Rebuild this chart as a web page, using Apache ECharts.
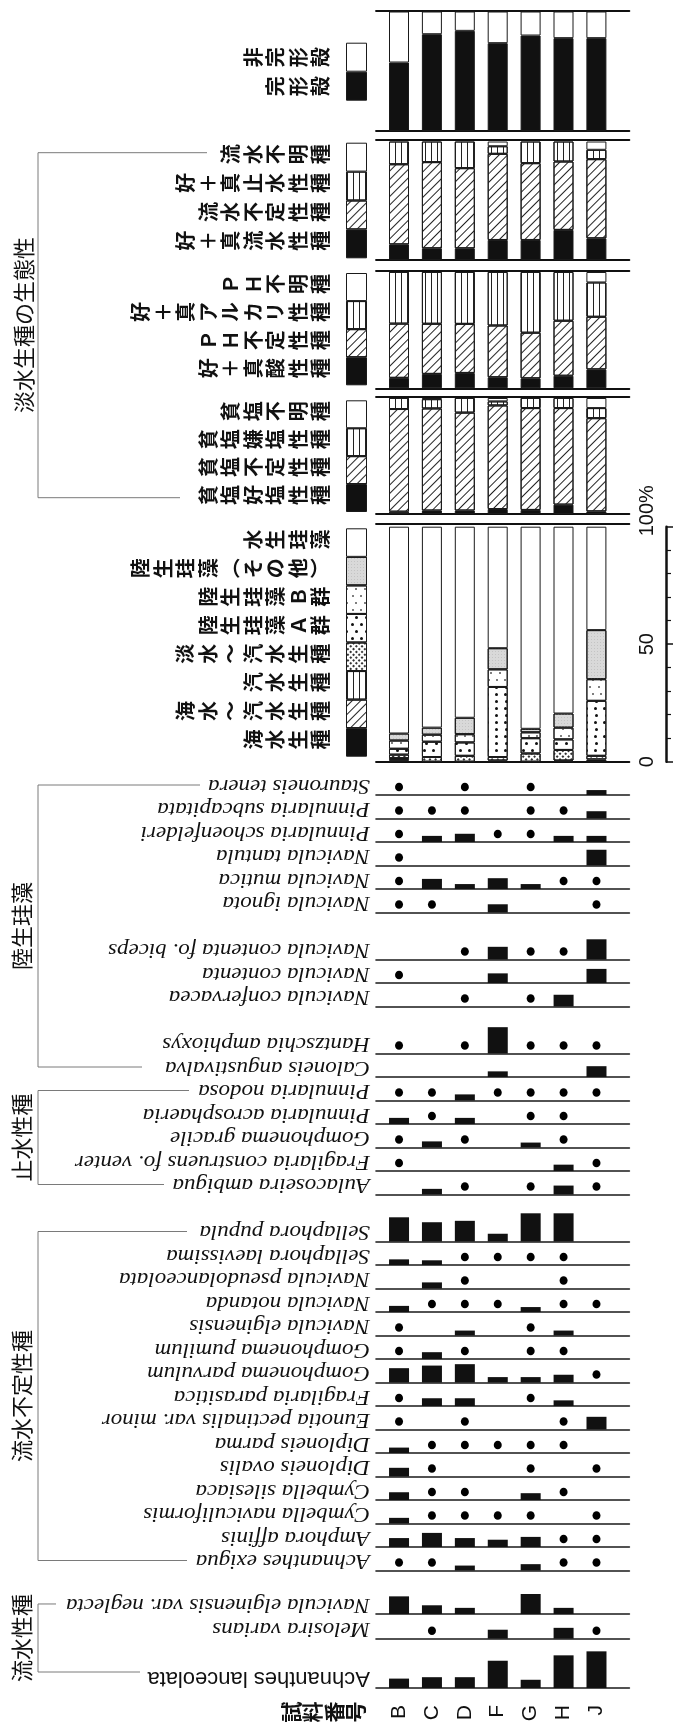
<!DOCTYPE html>
<html>
<head>
<meta charset="utf-8">
<script src="https://cdn.jsdelivr.net/npm/echarts@6/dist/echarts.min.js"></script>
<style>
  html, body { margin: 0; padding: 0; background: #fff; }
  #chart { width: 675px; height: 1725px; }
</style>
</head>
<body>
<div id="chart"></div>
<script>
// ---------------------------------------------------------------------------
// Diatom assemblage diagram (samples B–J)
// ---------------------------------------------------------------------------
const samples = ['B', 'C', 'D', 'F', 'G', 'H', 'J'];

// Species occurrences in %, listed bottom to top; '+' = present below 1 %, null = absent
const rheophilNames = ['Achnanthes lanceolata', 'Melosira varians', 'Navicula elginensis var. neglecta'];
const rheophilValues = [
  [4.0, 4.6, 4.6, 11.6, 3.5, 13.9, 15.6],
  [null, '+', null, 3.8, null, 4.6, '+'],
  [7.5, 3.7, 2.6, null, 8.5, 2.6, null]
];

const indifferentNames = [
  'Achnanthes exigua', 'Amphora affinis', 'Cymbella naviculiformis', 'Cymbella silesiaca',
  'Diploneis ovalis', 'Diploneis parma', 'Eunotia pectinalis var. minor', 'Fragilaria parasitica',
  'Gomphonema parvulum', 'Gomphonema pumilum', 'Navicula elginensis', 'Navicula notanda',
  'Navicula pseudolanceolata', 'Sellaphora laevissima', 'Sellaphora pupula'
];
const indifferentValues = [
  ['+', '+', 2.1, null, 2.7, '+', '+'],
  [3.8, 6.0, 3.8, 3.1, 4.3, '+', '+'],
  [2.4, '+', '+', '+', '+', null, '+'],
  [3.3, '+', '+', null, 2.9, '+', null],
  [3.7, '+', null, null, '+', null, '+'],
  [2.3, '+', '+', '+', '+', '+', null],
  ['+', null, '+', null, null, '+', 5.4],
  ['+', 3.3, 3.3, null, '+', 2.4, null],
  [6.1, 7.2, 7.8, 2.3, 2.3, 3.3, '+'],
  ['+', 2.9, '+', null, '+', '+', null],
  ['+', null, 2.1, null, '+', 2.1, null],
  [2.6, '+', '+', '+', 2.1, '+', '+'],
  [null, 2.6, '+', null, null, '+', null],
  [2.4, 2.0, '+', '+', '+', '+', null],
  [10.3, 8.2, 8.8, 3.3, 12.0, 12.0, null]
];

const limnophilNames = [
  'Aulacoseira ambigua', 'Fragilaria construens fo. venter', 'Gomphonema gracile',
  'Pinnularia acrosphaeria', 'Pinnularia nodosa'
];
const limnophilValues = [
  [null, 2.4, '+', null, '+', 3.8, '+'],
  ['+', null, null, null, null, 2.7, '+'],
  ['+', 2.6, '+', null, 2.1, '+', null],
  [2.6, '+', 2.6, null, '+', '+', null],
  ['+', '+', 2.6, '+', '+', '+', '+']
];

const aerophilNames = [
  'Caloneis angustivalva', 'Hantzschia amphioxys', 'Navicula confervacea', 'Navicula contenta',
  'Navicula contenta fo. biceps', 'Navicula ignota', 'Navicula mutica', 'Navicula tantula',
  'Pinnularia schoenfelderi', 'Pinnularia subcapitata', 'Stauroneis tenera'
];
const aerophilValues = [
  [null, null, null, 2.4, null, null, 4.6],
  ['+', null, '+', 11.2, '+', '+', '+'],
  [null, null, '+', null, '+', 5.0, null],
  ['+', null, null, 4.1, null, null, 6.0],
  [null, null, '+', 5.4, '+', '+', 8.6],
  ['+', '+', null, 3.5, null, null, '+'],
  ['+', 4.3, 2.1, 4.6, 2.1, '+', '+'],
  ['+', null, null, null, null, null, 6.7],
  ['+', 2.6, 3.5, '+', '+', 2.6, 2.6],
  ['+', '+', '+', null, '+', '+', 3.1],
  ['+', null, '+', null, '+', null, 2.1]
];

// Valve preservation (%)
const valveIntact = [57.3, 81.0, 83.8, 73.5, 79.9, 77.7, 77.7];
const valveBroken = [42.7, 19.0, 16.2, 26.5, 20.1, 22.3, 22.3];

// Current preference (%)
const currentLoving = [13.2, 9.9, 9.9, 16.9, 16.9, 25.4, 18.3];
const currentIndifferent = [67.6, 72.7, 67.6, 72.7, 64.8, 57.7, 66.8];
const standingLoving = [19.2, 17.4, 22.5, 6.4, 18.3, 16.9, 7.9];
const currentUnknown = [0, 0, 0, 4.0, 0, 0, 7.0];

// pH preference (%)
const acidophil = [9.0, 12.4, 13.2, 9.5, 8.6, 10.8, 16.3];
const phIndifferent = [46.6, 43.1, 42.2, 44.5, 39.2, 47.3, 45.2];
const alkaliphil = [44.4, 44.5, 44.6, 46.0, 52.2, 41.9, 29.5];
const phUnknown = [0, 0, 0, 0, 0, 0, 9.0];

// Salinity preference (%)
const halophil = [2.0, 3.0, 3.0, 4.3, 3.5, 8.1, 2.3];
const salIndifferent = [88.5, 88.0, 84.4, 89.3, 87.8, 83.2, 80.3];
const halophobe = [9.5, 8.0, 12.6, 3.5, 8.7, 8.7, 8.7];
const salUnknown = [0, 1.0, 0, 2.9, 0, 0, 8.7];

// Habitat groups (%)
const marine = [0.5, 0, 0, 0.5, 0, 0, 1.0];
const marineBrackish = [0.5, 0, 0, 0, 0, 0, 0];
const brackish = [0.5, 0, 0, 0, 0, 0.5, 0];
const freshBrackish = [1.5, 2.0, 2.5, 1.5, 3.5, 4.5, 1.5];
const aerialA = [2.5, 6.5, 5.7, 29.8, 6.5, 4.5, 23.4];
const aerialB = [3.5, 3.0, 3.5, 7.5, 2.5, 5.0, 9.2];
const aerialOther = [3.0, 3.0, 7.0, 9.0, 1.5, 6.0, 20.9];
const aquatic = [88.0, 85.5, 81.3, 51.7, 86.0, 79.5, 44.0];

const scaleTicks = ['0', '50', '100%'];

// ---------------------------------------------------------------------------
// Layout and styles
// ---------------------------------------------------------------------------
const X_MIN = -0.7, X_MAX = 7.0;          // value axis used for the row baselines
const PLOT_LEFT = 376, PLOT_W = 253.4;
const BAR_LEFT = 382.55, BAR_W = 230.3;   // category band area (B..J)
const PX_PER_PCT = 2.35;
const ROW0 = 1688, ROW_STEP = 23.5;       // species baselines
const ROW_H = 45;
const DOT_LEVEL = 8 / PX_PER_PCT;
const INK = '#111';
const JP = '"Noto Sans CJK JP", "Noto Sans CJK SC", sans-serif';

const SOLID = { color: INK };
const WHITE = { color: '#fff' };
const HATCH = { color: '#fff', decal: { symbol: 'rect', symbolSize: 1, dashArrayX: [1, 0], dashArrayY: [1, 4.5], rotation: -Math.PI / 4, color: '#222' } };
const VLINES = { color: '#fff', decal: { symbol: 'rect', symbolSize: 1, dashArrayX: [1, 0], dashArrayY: [1, 4.5], rotation: Math.PI / 2, color: '#222' } };
const CROSS = { color: '#fff', decal: { symbol: 'rect', symbolSize: 1, dashArrayX: [2, 1.5], dashArrayY: [2, 1.5], rotation: Math.PI / 4, color: '#333' } };
const BIGDOTS = { color: '#fff', decal: { symbol: 'circle', symbolSize: 1, dashArrayX: [[3, 6], [0, 4.5, 3, 1.5]], dashArrayY: [3, 4], color: '#111' } };
const SMALLDOTS = { color: '#fff', decal: { symbol: 'circle', symbolSize: 1, dashArrayX: [[1.5, 6], [0, 3.75, 1.5, 2.25]], dashArrayY: [1.5, 5], color: '#555' } };
const GRAY = { color: '#d9d9d9', decal: { symbol: 'circle', symbolSize: 1, dashArrayX: [1, 2], dashArrayY: [1, 2], color: '#bdbdbd' } };

const grid = [], xAxis = [], yAxis = [], series = [], graphic = [];

function hiddenValueX(gridIndex, extra) {
  return Object.assign({
    gridIndex, type: 'value', min: X_MIN, max: X_MAX,
    axisLine: { show: true, onZero: false, lineStyle: { color: '#1a1a1a', width: 1.6 } },
    axisTick: { show: false }, axisLabel: { show: false }, splitLine: { show: false }
  }, extra || {});
}

function vtext(str) { return Array.from(str).join('\n'); }

// ---------------------------------------------------------------------------
// Species rows
// ---------------------------------------------------------------------------
const speciesGroups = [
  { label: '流水性種', names: rheophilNames, values: rheophilValues, slots: [0, 2.1, 3.15], topEnd: 56, bottomEnd: 140 },
  { label: '流水不定性種', names: indifferentNames, values: indifferentValues,
    slots: [5, 6, 7, 8, 9, 10, 11, 12, 13, 14, 15, 16, 17, 18, 19], topEnd: 187, bottomEnd: 187 },
  { label: '止水性種', names: limnophilNames, values: limnophilValues, slots: [21, 22, 23, 24, 25], topEnd: 189, bottomEnd: 164 },
  { label: '陸生珪藻', names: aerophilNames, values: aerophilValues,
    slots: [26, 27, 29, 30, 31, 33, 34, 35, 36, 37, 38], topEnd: 200, bottomEnd: 142 }
];

speciesGroups.forEach(g => {
  g.names.forEach((name, k) => {
    const base = ROW0 - g.slots[k] * ROW_STEP;
    const gi = grid.length;
    grid.push({ left: PLOT_LEFT, width: PLOT_W, top: base - ROW_H, height: ROW_H });
    const xi = xAxis.length; xAxis.push(hiddenValueX(gi));
    const yi = yAxis.length; yAxis.push({ gridIndex: gi, type: 'value', min: 0, max: ROW_H / PX_PER_PCT, show: false });
    const vals = g.values[k];
    series.push({
      type: 'bar', xAxisIndex: xi, yAxisIndex: yi, barWidth: 20, silent: true,
      data: vals.map((v, i) => typeof v === 'number' ? [i, v] : null).filter(Boolean),
      itemStyle: { color: INK }
    });
    series.push({
      type: 'scatter', xAxisIndex: xi, yAxisIndex: yi, symbol: 'circle', symbolSize: [8, 8.5], silent: true,
      data: vals.map((v, i) => v === '+' ? [i, DOT_LEVEL] : null).filter(Boolean),
      itemStyle: { color: '#000', opacity: 1 }
    });
    const upright = name === 'Achnanthes lanceolata';
    graphic.push({
      type: 'text', x: 370, y: base - 10, rotation: Math.PI, scaleX: upright ? 1.0 : 1.15, silent: true,
      style: {
        text: name,
        font: upright ? '22px "Liberation Sans", Arial, sans-serif' : 'italic 20px "Liberation Serif", "Times New Roman", serif',
        fill: INK, textAlign: 'left', textVerticalAlign: 'middle', align: 'left', verticalAlign: 'middle'
      }
    });
  });
  // bracket + group label
  const topY = ROW0 - g.slots[g.slots.length - 1] * ROW_STEP - 10;
  const botY = ROW0 - g.slots[0] * ROW_STEP - 10 - (g.slots[0] === 0 ? 6 : 0);
  graphic.push({
    type: 'polyline', silent: true,
    shape: { points: [[g.topEnd, topY], [38, topY], [38, botY], [g.bottomEnd, botY]] },
    style: { stroke: '#7a7a7a', lineWidth: 1, fill: null }
  });
  graphic.push({
    type: 'text', x: 22, y: (topY + botY) / 2, rotation: Math.PI / 2, silent: true,
    style: { text: g.label, font: '22px ' + JP, fill: INK, textAlign: 'center', textVerticalAlign: 'middle', align: 'center', verticalAlign: 'middle' }
  });
});

// freshwater-ecology bracket spanning the three upper panels
graphic.push({
  type: 'polyline', silent: true,
  shape: { points: [[207, 152.7], [38, 152.7], [38, 497.7], [180, 497.7]] },
  style: { stroke: '#7a7a7a', lineWidth: 1, fill: null }
});
graphic.push({
  type: 'text', x: 24, y: 325, rotation: Math.PI / 2, silent: true,
  style: { text: '淡水生種の生態性', font: '22px ' + JP, fill: INK, textAlign: 'center', textVerticalAlign: 'middle', align: 'center', verticalAlign: 'middle' }
});

// sample labels on a category axis
(function () {
  const gi = grid.length;
  grid.push({ left: BAR_LEFT, width: BAR_W, top: 1689, height: 1 });
  xAxis.push({
    gridIndex: gi, type: 'category', data: samples, boundaryGap: true,
    axisLine: { show: false }, axisTick: { show: false }, splitLine: { show: false },
    axisLabel: { rotate: 90, margin: 15, fontSize: 21, color: INK, fontFamily: '"Liberation Sans", Arial, sans-serif' }
  });
  yAxis.push({ gridIndex: gi, type: 'value', show: false });
})();
graphic.push({
  type: 'text', x: 366, y: 1712, rotation: Math.PI / 2, silent: true,
  style: { text: vtext('試料番号'), font: 'bold 21px ' + JP, lineHeight: 21.5, fill: INK, textAlign: 'center', textVerticalAlign: 'bottom', align: 'center', verticalAlign: 'bottom' }
});

// ---------------------------------------------------------------------------
// Stacked percentage panels (with key swatches)
// ---------------------------------------------------------------------------
const panels = [
  { top: 11.5, height: 119.5, topOffset: 1, parts: [[valveIntact, SOLID], [valveBroken, WHITE]],
    key: { top: 42.7, height: 58, labels: ['完形殻', '非完形殻'] } },
  { top: 141.5, height: 118.5, topOffset: 1.5,
    parts: [[currentLoving, SOLID], [currentIndifferent, HATCH], [standingLoving, VLINES], [currentUnknown, WHITE]],
    key: { top: 142.7, height: 115.6, labels: ['好＋真流水性種', '流水不定性種', '好＋真止水性種', '流水不明種'] } },
  { top: 272, height: 116.3, topOffset: 1,
    parts: [[acidophil, SOLID], [phIndifferent, HATCH], [alkaliphil, VLINES], [phUnknown, WHITE]],
    key: { top: 273, height: 112.3, labels: ['好＋真酸性種', 'ＰＨ不定性種', '好＋真アルカリ性種', 'ＰＨ不明種'] } },
  { top: 398, height: 116, topOffset: 1,
    parts: [[halophil, SOLID], [salIndifferent, HATCH], [halophobe, VLINES], [salUnknown, WHITE]],
    key: { top: 400.3, height: 111.7, labels: ['貧塩好塩性種', '貧塩不定性種', '貧塩嫌塩性種', '貧塩不明種'] } },
  { top: 526.7, height: 235, topOffset: 3.4, scale: true,
    parts: [[marine, SOLID], [marineBrackish, HATCH], [brackish, VLINES], [freshBrackish, CROSS],
            [aerialA, BIGDOTS], [aerialB, SMALLDOTS], [aerialOther, GRAY], [aquatic, WHITE]],
    key: { top: 528.3, height: 228.4, labels: ['海水生種', '海水～汽水生種', '汽水生種', '淡水～汽水生種',
            '陸生珪藻Ａ群', '陸生珪藻Ｂ群', '陸生珪藻︵その他︶', '水生珪藻'] } }
];

const frameLine = { color: '#111', width: 1.8 };

panels.forEach((p, pi) => {
  // frame: top and bottom rules across the full panel width
  const fg = grid.length;
  grid.push({ left: PLOT_LEFT, width: PLOT_W, top: p.top, height: p.height });
  xAxis.push(hiddenValueX(fg, { axisLine: { show: true, onZero: false, lineStyle: frameLine } }));
  xAxis.push(hiddenValueX(fg, { position: 'top', offset: p.topOffset, axisLine: { show: true, onZero: false, lineStyle: frameLine } }));
  yAxis.push({ gridIndex: fg, type: 'value', min: 0, max: 100, show: false });

  // stacked bars on a category axis
  const bg = grid.length;
  grid.push({ left: BAR_LEFT, width: BAR_W, top: p.top, height: p.height });
  const bx = xAxis.length;
  xAxis.push({ gridIndex: bg, type: 'category', data: samples, boundaryGap: true, show: false });
  const by = yAxis.length;
  if (p.scale) {
    yAxis.push({
      gridIndex: bg, type: 'value', min: 0, max: 100, interval: 50, position: 'right',
      offset: 666 - (BAR_LEFT + BAR_W),
      axisLine: { show: true, lineStyle: { color: '#111', width: 2.5 } },
      axisTick: { show: true, length: 7, lineStyle: { color: '#111', width: 1.5 } },
      minorTick: { show: true, splitNumber: 5, length: 5, lineStyle: { color: '#111', width: 1.2 } },
      splitLine: { show: false },
      axisLabel: {
        inside: true, rotate: 90, margin: 9, color: INK, fontSize: 20, fontFamily: '"Liberation Sans", Arial, sans-serif',
        formatter: v => v === 100 ? '{p|' + scaleTicks[2] + '}' : scaleTicks[v / 50],
        rich: { p: { fontSize: 20, fontFamily: '"Liberation Sans", Arial, sans-serif', color: INK, padding: [0, 0, 0, 32] } }
      }
    });
  } else {
    yAxis.push({ gridIndex: bg, type: 'value', min: 0, max: 100, show: false });
  }
  p.parts.forEach(([vals, style]) => {
    series.push({
      type: 'bar', xAxisIndex: bx, yAxisIndex: by, stack: 'panel' + pi, barWidth: 20, silent: true,
      data: vals.map(v => v > 0 ? v : '-'),
      itemStyle: Object.assign({ borderColor: '#1a1a1a', borderWidth: 1 }, style)
    });
  });

  // key swatch column drawn as a stacked bar of equal parts
  const kg = grid.length;
  grid.push({ left: 346, width: 21, top: p.key.top, height: p.key.height });
  const kx = xAxis.length;
  xAxis.push({ gridIndex: kg, type: 'category', data: ['key'], show: false });
  const ky = yAxis.length;
  yAxis.push({ gridIndex: kg, type: 'value', min: 0, max: p.parts.length, show: false });
  const sec = p.key.height / p.parts.length;
  p.parts.forEach(([vals, style], j) => {
    series.push({
      type: 'bar', xAxisIndex: kx, yAxisIndex: ky, stack: 'key' + pi, barWidth: 21, silent: true,
      data: [1],
      itemStyle: Object.assign({ borderColor: '#1a1a1a', borderWidth: 1 }, style)
    });
    const cy = p.key.top + p.key.height - (j + 0.5) * sec - (p.parts.length > 2 ? 3 : 0);
    graphic.push({
      type: 'text', x: 332, y: cy, rotation: Math.PI / 2, silent: true,
      style: { text: vtext(p.key.labels[j]), font: 'bold 20px ' + JP, lineHeight: 22.5, fill: INK,
               textAlign: 'center', textVerticalAlign: 'bottom', align: 'center', verticalAlign: 'bottom' }
    });
  });
});

const chart = echarts.init(document.getElementById('chart'), null, { renderer: 'canvas', width: 675, height: 1725 });
chart.setOption({
  backgroundColor: '#fff',
  animation: false,
  grid, xAxis, yAxis, series, graphic
});
</script>
</body>
</html>
